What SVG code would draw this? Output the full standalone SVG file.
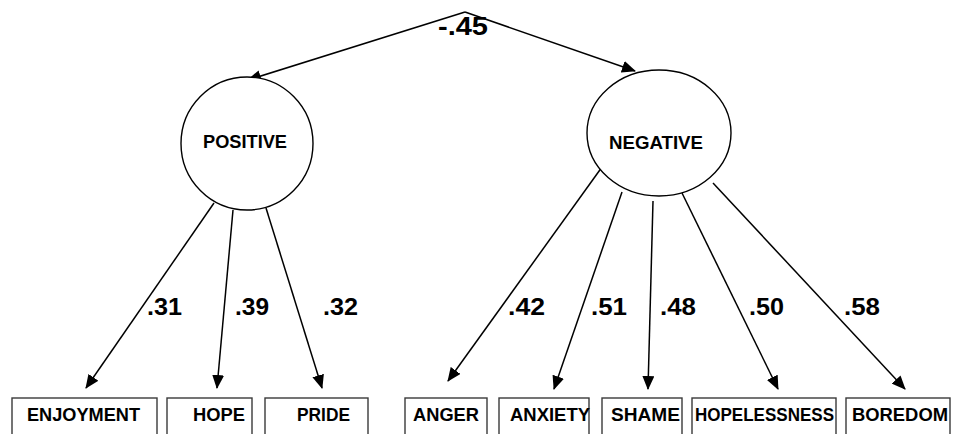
<svg xmlns="http://www.w3.org/2000/svg" width="953" height="434" viewBox="0 0 953 434">
<style>
.lat{fill:#fff;stroke:#000;stroke-width:1.4}
.box{fill:#fff;stroke:#3a3a3a;stroke-width:1.4}
.lbl{font-family:"Liberation Sans",Arial,sans-serif;font-weight:bold;font-size:19px;fill:#000}
.num{font-family:"Liberation Sans",Arial,sans-serif;font-weight:bold;font-size:24px;fill:#000}
.cor{font-family:"Liberation Sans",Arial,sans-serif;font-weight:bold;font-size:26px;fill:#000}
.edge{stroke:#000;stroke-width:1.5;fill:none;marker-end:url(#ah)}
</style>
<defs>
<marker id="ah" markerUnits="userSpaceOnUse" markerWidth="14" markerHeight="12" viewBox="0 0 14 12" refX="13" refY="6" orient="auto">
<path d="M0,0 L14,6 L0,12 Z" fill="#000"/>
</marker>
</defs>
<rect width="953" height="434" fill="#fff"/>
<g id="connectors">
<line class="edge" x1="465" y1="12" x2="248" y2="80"/>
<line class="edge" x1="465" y1="12" x2="635" y2="71"/>
<line class="edge" x1="214" y1="203" x2="86" y2="388"/>
<line class="edge" x1="233" y1="210" x2="217" y2="388"/>
<line class="edge" x1="266" y1="208" x2="322" y2="388"/>
<line class="edge" x1="602" y1="167" x2="448" y2="381"/>
<line class="edge" x1="622" y1="192" x2="554" y2="389"/>
<line class="edge" x1="653" y1="201" x2="648" y2="389"/>
<line class="edge" x1="682" y1="193" x2="778" y2="389"/>
<line class="edge" x1="713" y1="183" x2="905" y2="389"/>
<text class="cor" x="438" y="35" textLength="50" lengthAdjust="spacingAndGlyphs">-.45</text>
<text class="num" x="147" y="315" textLength="35" lengthAdjust="spacingAndGlyphs">.31</text>
<text class="num" x="235" y="315" textLength="34" lengthAdjust="spacingAndGlyphs">.39</text>
<text class="num" x="323" y="315" textLength="35" lengthAdjust="spacingAndGlyphs">.32</text>
<text class="num" x="508" y="315" textLength="37" lengthAdjust="spacingAndGlyphs">.42</text>
<text class="num" x="591" y="315" textLength="36" lengthAdjust="spacingAndGlyphs">.51</text>
<text class="num" x="660" y="315" textLength="36" lengthAdjust="spacingAndGlyphs">.48</text>
<text class="num" x="749" y="315" textLength="35" lengthAdjust="spacingAndGlyphs">.50</text>
<text class="num" x="844" y="315" textLength="36" lengthAdjust="spacingAndGlyphs">.58</text>
</g>
<g id="positive">
<ellipse class="lat" cx="247" cy="143.5" rx="66" ry="66.5"/>
<text class="lbl" x="203" y="148" textLength="84" lengthAdjust="spacingAndGlyphs">POSITIVE</text>
</g>
<g id="negative">
<ellipse class="lat" cx="659" cy="133" rx="72" ry="63"/>
<text class="lbl" x="609" y="149" textLength="94" lengthAdjust="spacingAndGlyphs">NEGATIVE</text>
</g>
<g id="enjoyment">
<rect class="box" x="12" y="398" width="145" height="42"/>
<text class="lbl" x="27" y="421" textLength="113" lengthAdjust="spacingAndGlyphs">ENJOYMENT</text>
</g>
<g id="hope">
<rect class="box" x="167" y="398" width="85" height="42"/>
<text class="lbl" x="193" y="421" textLength="52" lengthAdjust="spacingAndGlyphs">HOPE</text>
</g>
<g id="pride">
<rect class="box" x="265" y="398" width="103" height="42"/>
<text class="lbl" x="297" y="421" textLength="53" lengthAdjust="spacingAndGlyphs">PRIDE</text>
</g>
<g id="anger">
<rect class="box" x="405" y="398" width="82" height="42"/>
<text class="lbl" x="413" y="421" textLength="66" lengthAdjust="spacingAndGlyphs">ANGER</text>
</g>
<g id="anxiety">
<rect class="box" x="499" y="398" width="90" height="42"/>
<text class="lbl" x="510" y="421" textLength="80" lengthAdjust="spacingAndGlyphs">ANXIETY</text>
</g>
<g id="shame">
<rect class="box" x="602" y="398" width="80" height="42"/>
<text class="lbl" x="611" y="421" textLength="69" lengthAdjust="spacingAndGlyphs">SHAME</text>
</g>
<g id="hopelessness">
<rect class="box" x="692" y="398" width="144" height="42"/>
<text class="lbl" x="695" y="421" textLength="139" lengthAdjust="spacingAndGlyphs">HOPELESSNESS</text>
</g>
<g id="boredom">
<rect class="box" x="846" y="398" width="104" height="42"/>
<text class="lbl" x="852" y="421" textLength="96" lengthAdjust="spacingAndGlyphs">BOREDOM</text>
</g>
</svg>
